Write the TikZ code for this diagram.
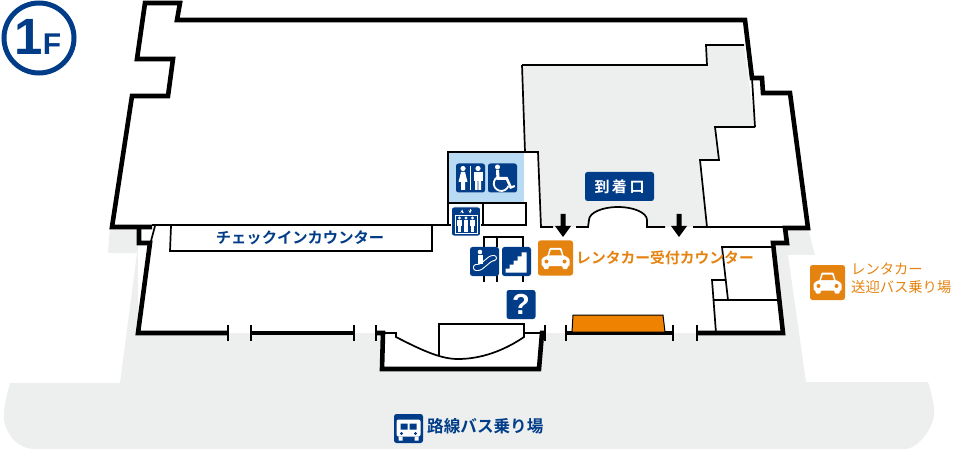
\documentclass[tikz,border=0pt]{standalone}
\usepackage{fontspec}
\usepackage{tikz}
\setmainfont{Liberation Sans}
\newfontfamily\jpfont[BoldFont={* Bold}]{Noto Sans CJK JP}
\definecolor{navy}{HTML}{003C88}
\definecolor{carorange}{HTML}{E58310}
\definecolor{counterorange}{HTML}{EF8200}
\definecolor{ground}{HTML}{EDEFEF}
\definecolor{wcblue}{HTML}{B9DAF3}
\tikzset{
	wall/.style={black,line width=4.6pt,line join=miter},
	thin wall/.style={black,line width=1.7pt,line join=miter},
	tick/.style={black,line width=1.5pt},
	icon/.style={fill=navy,rounded corners=2.5pt,minimum width=29pt,minimum height=29pt,inner sep=0pt},
	caricon/.style={fill=carorange,rounded corners=2.5pt,minimum width=35pt,minimum height=35pt,inner sep=0pt},
	pics/car/.style={code={
		\begin{scope}[yscale=-1]
		\fill[white,rounded corners=1pt] (-10,-2) -- (-8,-2) -- (-6,-10) -- (6,-10) -- (8,-2) -- (10,-2) -- (14,1) -- (14,8) -- (12,8) -- (12,11) -- (7,11) -- (7,8) -- (-7,8) -- (-7,11) -- (-12,11) -- (-12,8) -- (-14,8) -- (-14,1) -- cycle;
		\fill[carorange] (-6.5,-2.5) -- (-4.5,-8) -- (4.5,-8) -- (6.5,-2.5) -- cycle;
		\fill[carorange] (-9,3.5) circle (2) (9,3.5) circle (2);
		\end{scope}
	}},
}
\begin{document}
\begin{tikzpicture}[x=1pt,y=1pt]
	\useasboundingbox (0,0) rectangle (980,-449);
	% ground around the building
	\fill[ground] (10,-383) -- (120,-383) -- (137,-253) -- (108,-253) -- (110,-226) -- (808,-228) -- (815,-255) -- (788,-255) -- (806,-382) -- (928,-382)
		.. controls (933,-398) and (936,-412) .. (933,-420) .. controls (928,-436) and (915,-449) .. (905,-449)
		-- (35,-449) .. controls (18,-449) and (7,-436) .. (4,-420) .. controls (3,-410) and (6,-398) .. (10,-383) -- cycle;
	\fill[white] (138,-226) -- (783,-226) -- (783,-243) -- (773,-243) -- (783,-333) -- (697,-333) -- (542,-333) -- (539,-369) -- (382,-369) -- (383,-333) -- (138,-333) -- cycle;
	\fill[ground] (522,-65) -- (707,-65) -- (706,-45) -- (744,-45) -- (755,-127) -- (715,-127) -- (719,-160) -- (700,-160) -- (707,-227) -- (647,-227) -- (647,-220) arc (0:180:29 and 13) -- (589,-227) -- (541,-227) -- (538,-152) -- (525,-152) -- cycle;
	\fill[wcblue] (449,-153) rectangle (524,-202);
	% outer walls
	\draw[wall] (152,-227) -- (112,-227) -- (132,-96) -- (168,-96) -- (173,-59) -- (137,-59) -- (145,-3) -- (180,-3) -- (177,-20) -- (745,-20) -- (752,-78) -- (762,-78) -- (763,-93) -- (790,-93) -- (808,-228) -- (785,-228) -- (787,-243) -- (773,-243) -- (783,-333) -- (697,-333);
	\draw[wall] (139,-227) -- (139,-243) -- (150,-243) -- (138,-333) -- (228,-333);
	\draw[wall] (251,-333) -- (354,-333);
	\draw[wall] (376,-333) -- (383,-333) -- (382,-369) -- (539,-369) -- (542,-333) -- (545,-333);
	\draw[wall] (566,-333) -- (673,-333);
	% door ends
	\foreach \x in {228,251,354,376,545,566,673,697}
		\draw[tick] (\x,-325) -- (\x,-341);
	% thin walls
	\draw[thin wall] (152,-225) -- (483,-225);
	\draw[thin wall] (155,-226) -- (151,-241);
	\draw[thin wall] (171,-226) -- (170,-251) -- (432,-251) -- (432,-226);
	\draw[thin wall] (522,-65) -- (707,-65) -- (706,-45) -- (744,-45);
	\draw[thin wall] (522,-65) -- (525,-152);
	\draw[thin wall] (755,-127) -- (715,-127) -- (719,-160) -- (700,-160) -- (707,-227);
	\draw[thin wall] (752,-78) -- (755,-127);
	\draw[thin wall] (448,-226) -- (448,-152) -- (538,-152) -- (541,-227) -- (553,-227);
	\draw[thin wall] (448,-203) -- (526,-203) -- (526,-225) -- (483,-225) -- (483,-203);
	\draw[thin wall] (576,-227) -- (588,-227) -- (589,-220) arc (180:0:29 and 13) -- (647,-227) -- (665,-227);
	\draw[thin wall] (693,-227) -- (808,-227);
	\draw[thin wall] (484,-247) -- (484,-237) -- (523,-237) -- (523,-247);
	\draw[thin wall] (497,-237) -- (497,-247);
	\foreach \x in {484,497,523}
		\draw[thin wall] (\x,-275) -- (\x,-282);
	\draw[thin wall] (773,-247) -- (722,-247) -- (728,-300);
	\draw[thin wall] (726,-280) -- (712,-280) -- (716,-333);
	\draw[thin wall] (714,-300) -- (778,-300);
	% entrance
	\draw[thin wall] (385,-333) -- (396,-333) -- (396,-337) .. controls (425,-352) and (442,-359) .. (458,-359) .. controls (482,-359) and (505,-350) .. (524,-337) -- (524,-333) -- (541,-333);
	\draw[thin wall] (439,-356) -- (439,-324) -- (524,-324) -- (524,-337);
	% rental car counter
	\draw[black,line width=1pt,fill=counterorange] (573,-315) -- (663,-315) -- (665,-332) -- (572,-332) -- cycle;
	% arrows
	\foreach \x in {563,679}
		\fill[black] (\x-2.5,-214) -- (\x+2.5,-214) -- (\x+2.5,-226) -- (\x+8,-226) -- (\x,-237) -- (\x-8,-226) -- (\x-2.5,-226) -- cycle;
	% floor mark
	\node[circle,draw=navy,line width=5pt,minimum size=70pt,inner sep=0pt] (floor) at (39,-38) {};
	\node[navy,font=\fontsize{51}{51}\selectfont\bfseries,inner sep=0pt] (floornum) at (29,-37) {1};
	\node[navy,font=\fontsize{30}{30}\selectfont\bfseries,inner sep=0pt] (floorf) at (52,-44) {F};
	% texts
	\node[navy,font=\jpfont\bfseries\fontsize{15.3}{16}\selectfont,inner sep=0pt] (checkin) at (300,-238) {チェックインカウンター};
	\node[fill=navy,rounded corners=2.5pt,minimum width=69pt,minimum height=29pt,inner sep=0pt,text=white,font=\jpfont\bfseries\fontsize{15}{16}\selectfont] (arrival) at (619.5,-186.5) {到\,着\,口};
	\node[carorange,font=\jpfont\bfseries\fontsize{14.8}{16}\selectfont,anchor=west,inner sep=0pt] (rentcounter) at (576,-258) {レンタカー受付カウンター};
	\node[carorange,font=\jpfont\fontsize{14.3}{18}\selectfont,anchor=north west,inner sep=0pt,align=left] (rentbus) at (851,-263) {レンタカー\\送迎バス乗り場};
	\node[navy,font=\jpfont\bfseries\fontsize{16.6}{18}\selectfont,anchor=west,inner sep=0pt] (buslabel) at (427,-426) {路線バス乗り場};
	% car icons
	\node[caricon] (carcounter) at (555.5,-258) {};
	\pic at (carcounter) {car};
	\node[caricon] (carbus) at (827.5,-282.5) {};
	\pic at (carbus) {car};
	% toilet
	\node[icon] (toilet) at (470.5,-178) {};
	\begin{scope}[shift={(toilet)},yscale=-1,white]
		\fill (-7.5,-9.5) circle (2.6) (7.5,-9.5) circle (2.6);
		\fill (-9.5,-6) -- (-5.5,-6) -- (-3,4) -- (-5.5,4) -- (-5.5,12) -- (-9.5,12) -- (-9.5,4) -- (-12,4) -- cycle;
		\fill (3,-6) rectangle (12,3);
		\fill (4.5,3) rectangle (7.2,12) (7.8,3) rectangle (10.5,12);
		\fill (-.5,-12) rectangle (.5,12);
	\end{scope}
	% wheelchair
	\node[icon] (wheelchair) at (502.5,-178) {};
	\begin{scope}[shift={(wheelchair)},yscale=-1,white]
		\fill (-5,-11) circle (2.5);
		\fill (-6.5,-8) -- (-3.5,-8) -- (-3,-1) -- (5,-1) -- (9,8) -- (12,7) -- (12.5,9) -- (7.5,11) -- (3.5,2) -- (-6,2) -- cycle;
		\draw[white,line width=1.8pt] (-5,-1) arc (240:20:7.5);
	\end{scope}
	% elevator
	\node[icon,draw=white,line width=.8pt] (elevator) at (466,-221.5) {};
	\begin{scope}[shift={(elevator)},yscale=-1,white]
		\draw[white,line width=.6pt] (-11,-6) rectangle (11,12);
		\foreach \x in {-6.5,0,6.5} {
			\fill (\x,-3.5) circle (1.7);
			\fill (\x-2.4,-1.5) rectangle (\x+2.4,4.5);
			\fill (\x-1.7,4.5) rectangle (\x+1.7,10.5);
		}
		\draw[white,line width=.6pt,-stealth] (-4,-8) -- (-4,-12);
		\draw[white,line width=.6pt,-stealth] (4,-12) -- (4,-8);
	\end{scope}
	% escalator
	\node[icon] (escalator) at (484.5,-261.5) {};
	\begin{scope}[shift={(escalator)},yscale=-1,white]
		\fill (-4.5,-9.5) circle (2.3);
		\fill (-7,-6.5) rectangle (-2,2);
		\draw[white,line width=.9pt,rounded corners=2.5pt] (-11,9) -- (-4,9) -- (8,-1) -- (12,-1) -- (12,-6) -- (6,-6) -- (-5,3) -- (-11,3) -- cycle;
	\end{scope}
	% stairs
	\node[icon] (stairs) at (516.5,-261.5) {};
	\begin{scope}[shift={(stairs)},yscale=-1]
		\fill[white] (-11,11) -- (-11,7) -- (-7,7) -- (-7,3) -- (-3,3) -- (-3,-1) -- (1,-1) -- (1,-5) -- (5,-5) -- (5,-9) -- (10,-9) -- (10,11) -- cycle;
	\end{scope}
	% information
	\node[icon,text=white,font=\fontsize{29}{29}\selectfont\bfseries] (info) at (521,-304.5) {?};
	% bus
	\node[icon] (bus) at (408.5,-428.5) {};
	\begin{scope}[shift={(bus)},yscale=-1,white]
		\fill[rounded corners=2pt] (-12,-9) rectangle (12,8);
		\fill (-10,8) rectangle (-6,12) (6,8) rectangle (10,12);
		\fill[navy] (-8,-5) rectangle (-1,1) (1,-5) rectangle (8,1);
		\fill[navy] (-7,5) circle (1.6) (7,5) circle (1.6);
	\end{scope}
\end{tikzpicture}
\end{document}
